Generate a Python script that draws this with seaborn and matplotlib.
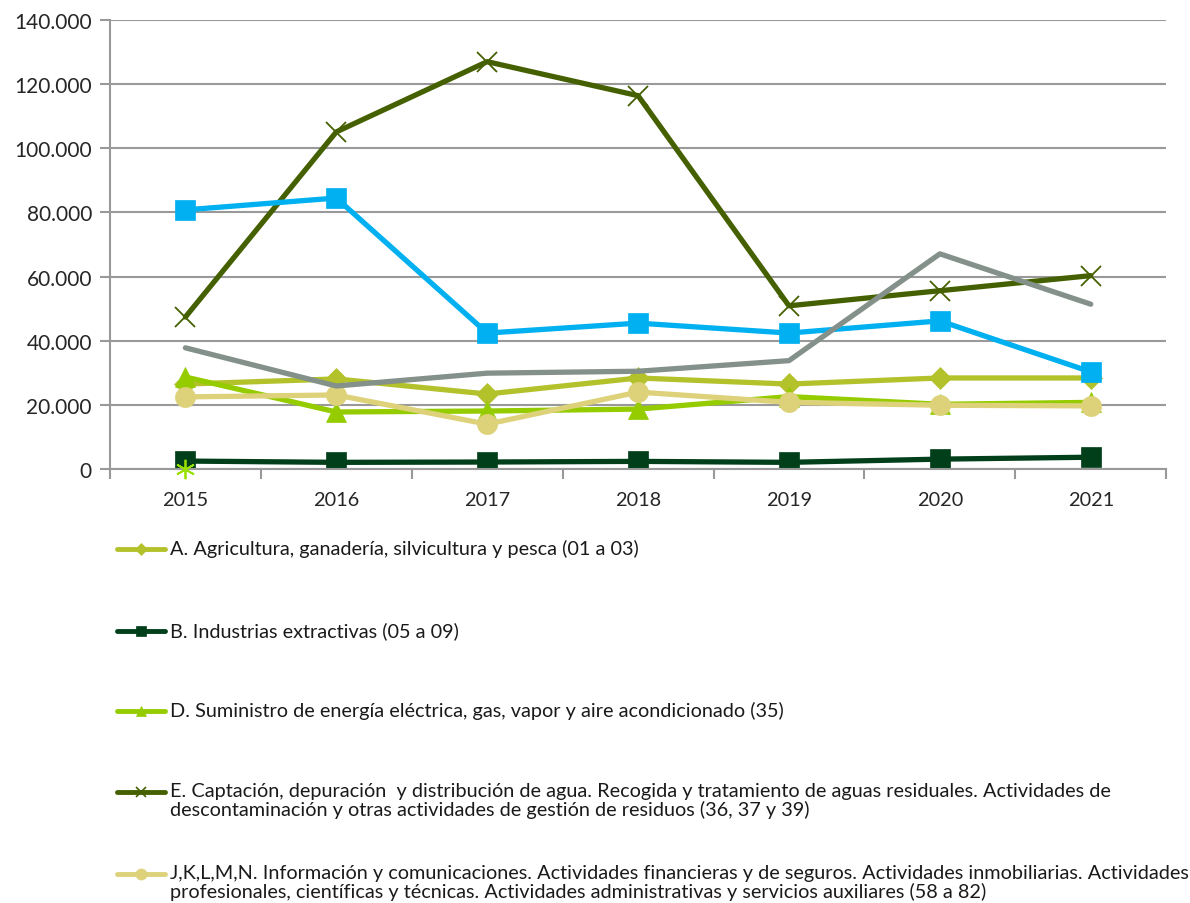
import numpy as np
import pandas as pd
import matplotlib
matplotlib.use("Agg")
import matplotlib.pyplot as plt
from matplotlib.lines import Line2D
from matplotlib.ticker import FuncFormatter, FixedLocator
import seaborn as sns

sns.set_style("white")
plt.rcParams['font.family'] = ['Lato', 'DejaVu Sans']

years = ['2015', '2016', '2017', '2018', '2019', '2020', '2021']

agricultura = [26500, 28100, 23400, 28400, 26500, 28400, 28400]
extractivas = [2500, 2100, 2200, 2400, 2100, 3100, 3700]
energia = [28700, 17800, 18100, 18700, 22600, 20200, 20800]
agua = [47400, 105100, 127000, 116400, 50900, 55600, 60300]
servicios = [22500, 23100, 14000, 24000, 20800, 19900, 19700]
serie_azul = [80800, 84500, 42400, 45500, 42400, 46200, 30300]
serie_gris = [37800, 25900, 29900, 30500, 33800, 67100, 51400]
serie_estrella = [0, np.nan, np.nan, np.nan, np.nan, np.nan, np.nan]

labels = [
    'A. Agricultura, ganadería, silvicultura y pesca (01 a 03)',
    'B. Industrias extractivas (05 a 09)',
    'D. Suministro de energía eléctrica, gas, vapor y aire acondicionado (35)',
    'E. Captación, depuración  y distribución de agua. Recogida y tratamiento de aguas residuales. Actividades de\n'
    'descontaminación y otras actividades de gestión de residuos (36, 37 y 39)',
    'J,K,L,M,N. Información y comunicaciones. Actividades financieras y de seguros. Actividades inmobiliarias. Actividades\n'
    'profesionales, científicas y técnicas. Actividades administrativas y servicios auxiliares (58 a 82)',
]

# serie, color, marker, markersize
estilos = [
    (agricultura, '#b3c12a', 'D', 11),
    (extractivas, '#003f19', 's', 14),
    (energia, '#95cc00', '^', 14),
    (agua, '#456000', 'x', 14),
    (servicios, '#ddd27a', 'o', 14.5),
    (serie_azul, '#00b0f0', 's', 14),
    (serie_gris, '#84908a', None, 0),
]

x = np.arange(len(years))

fig = plt.figure(figsize=(11.9, 9.04), dpi=100)
ax = fig.add_axes([0.0924, 0.48, 0.8876, 0.4968])

for vals, col, mk, ms in estilos:
    sns.lineplot(x=x, y=vals, ax=ax, color=col, linewidth=3.8, marker=mk,
                 markersize=ms, markeredgecolor=col, markeredgewidth=1.3 if mk == 'x' else 0.5,
                 legend=False)

est = pd.DataFrame({'x': x, 'y': serie_estrella}).dropna()
sns.lineplot(data=est, x='x', y='y', ax=ax, color='#99e000', marker=(6, 2, 0),
             markersize=14, markeredgewidth=1.3, markeredgecolor='#99e000', legend=False)
ax.lines[-1].set_clip_on(False)
ax.lines[-1].set_zorder(10)

ax.set_xlim(-0.5, 6.5)
ax.set_ylim(0, 140000)
ax.yaxis.set_major_locator(FixedLocator(np.arange(0, 140001, 20000)))
ax.yaxis.set_major_formatter(FuncFormatter(lambda v, p: f'{int(v):,}'.replace(',', '.')))
ax.grid(axis='y', color='#999999', linewidth=1.5)
ax.set_axisbelow(True)

ax.xaxis.set_major_locator(FixedLocator(np.arange(-0.5, 7, 1)))
ax.xaxis.set_major_formatter(FuncFormatter(lambda v, p: ''))
ax.set_xticks(x, minor=True)
ax.set_xticklabels(years, minor=True)
ax.tick_params(axis='x', which='minor', length=0, pad=16, labelsize=14.3)
ax.tick_params(axis='x', which='major', length=7, width=1.5, color='#999999', direction='out')
ax.tick_params(axis='y', length=7, width=1.5, color='#999999', direction='out', labelsize=15, pad=6)
ax.tick_params(bottom=True, left=True)

for s in ['top', 'right']:
    ax.spines[s].set_visible(False)
for s in ['left', 'bottom']:
    ax.spines[s].set_color('#999999')
    ax.spines[s].set_linewidth(1.5)
ax.set_xlabel('')
ax.set_ylabel('')

# leyenda: una fila por serie, manija alineada con la primera linea del texto
filas_px = [550, 632, 712, 793, 875]
W, H = 1190, 904
for (vals, col, mk, ms), lab, ypx in zip(estilos[:5], labels, filas_px):
    yf = 1 - ypx / H
    fig.add_artist(Line2D([117 / W, 165 / W], [yf, yf], transform=fig.transFigure,
                          color=col, linewidth=3.5, solid_capstyle='round'))
    fig.add_artist(Line2D([141 / W], [yf], transform=fig.transFigure, color=col,
                          marker=mk, markersize=ms * 0.55, markeredgecolor=col,
                          markeredgewidth=1.2 if mk == 'x' else 0.5, linestyle='none'))
    fig.text(170 / W, 1 - (ypx - 10) / H, lab, ha='left', va='top', fontsize=14.3,
             linespacing=1.03, color='#1a1a1a')

fig.savefig('out.png', dpi=100)
